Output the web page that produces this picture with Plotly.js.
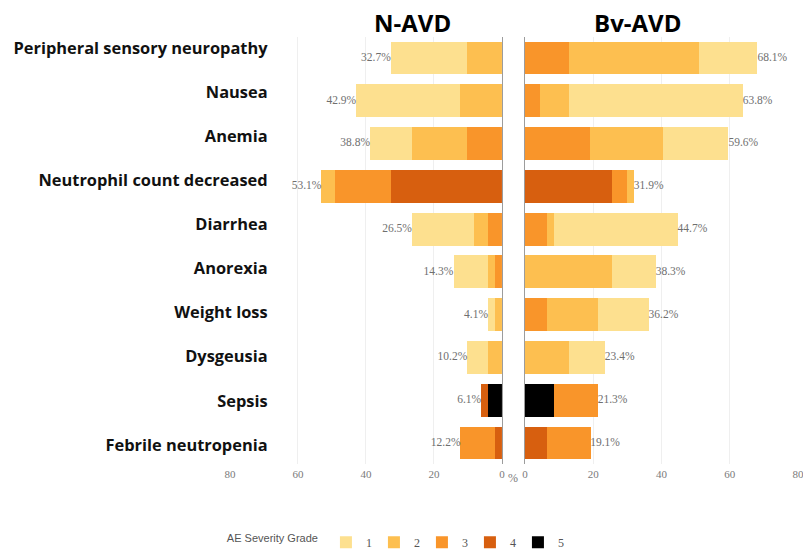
<!DOCTYPE html>
<html>
<head>
<meta charset="utf-8">
<script src="https://cdn.plot.ly/plotly-3.0.1.min.js"></script>
<style>html,body{margin:0;padding:0;background:#fff;}#chart{width:803px;height:551px;}</style>
</head>
<body>
<div id="chart"></div>
<script>
const categories = ["Peripheral sensory neuropathy","Nausea","Anemia","Neutrophil count decreased","Diarrhea","Anorexia","Weight loss","Dysgeusia","Sepsis","Febrile neutropenia"];
const grades = ["1","2","3","4","5"];
// N-AVD (%), per grade
const nG1 = [22.4, 30.6, 12.2, 0, 18.4, 10.2, 2.0, 6.1, 0, 0];
const nG2 = [10.2, 12.2, 16.3, 4.1, 4.1, 2.0, 2.0, 4.1, 0, 0];
const nG3 = [0, 0, 10.2, 16.3, 4.1, 2.0, 0, 0, 0, 10.2];
const nG4 = [0, 0, 0, 32.7, 0, 0, 0, 0, 2.0, 2.0];
const nG5 = [0, 0, 0, 0, 0, 0, 0, 0, 4.1, 0];
const nTotal = [32.7, 42.9, 38.8, 53.1, 26.5, 14.3, 4.1, 10.2, 6.1, 12.2];
// Bv-AVD (%), per grade
const bG1 = [17.0, 51.1, 19.1, 0, 36.2, 12.8, 14.9, 10.6, 0, 0];
const bG2 = [38.3, 8.5, 21.3, 2.1, 2.1, 25.5, 14.9, 12.8, 0, 0];
const bG3 = [12.8, 4.3, 19.1, 4.3, 6.4, 0, 6.4, 0, 12.8, 12.8];
const bG4 = [0, 0, 0, 25.5, 0, 0, 0, 0, 0, 6.4];
const bG5 = [0, 0, 0, 0, 0, 0, 0, 0, 8.5, 0];
const bTotal = [68.1, 63.8, 59.6, 31.9, 44.7, 38.3, 36.2, 23.4, 21.3, 19.1];
const xTicks = [0, 20, 40, 60, 80];

const colors = ["#FDE08F", "#FDBF50", "#F9952A", "#D75F0F", "#000000"];
const nSeries = [nG1, nG2, nG3, nG4, nG5];
const bSeries = [bG1, bG2, bG3, bG4, bG5];

const traces = [];
// stack from zero outward: grade 5,4,3,2,1
for (let g = 4; g >= 0; g--) {
  traces.push({type:'bar', orientation:'h', x:nSeries[g], y:categories, xaxis:'x', yaxis:'y',
    name:grades[g], legendrank:g+1, marker:{color:colors[g], line:{width:0}}, width:0.77,
    showlegend:true, hoverinfo:'x+name'});
}
for (let g = 4; g >= 0; g--) {
  traces.push({type:'bar', orientation:'h', x:bSeries[g], y:categories, xaxis:'x2', yaxis:'y2',
    name:grades[g], legendrank:g+1, marker:{color:colors[g], line:{width:0}}, width:0.77,
    showlegend:false, hoverinfo:'x+name'});
}
const pctFont = {family:'Liberation Serif, Times New Roman, serif', size:11.5, color:'#6f6f6f'};
traces.push({type:'scatter', mode:'text', x:nTotal, y:categories, xaxis:'x', yaxis:'y',
  text:nTotal.map(v=>v.toFixed(1)+'%'), textposition:'middle left', textfont:pctFont,
  showlegend:false, hoverinfo:'skip', cliponaxis:false});
traces.push({type:'scatter', mode:'text', x:bTotal, y:categories, xaxis:'x2', yaxis:'y2',
  text:bTotal.map(v=>v.toFixed(1)+'%'), textposition:'middle right', textfont:pctFont,
  showlegend:false, hoverinfo:'skip', cliponaxis:false});
// dummy trace to carry the category-label axis
traces.push({type:'scatter', mode:'markers', x:[0], y:[0], xaxis:'x3', yaxis:'y3',
  marker:{opacity:0}, showlegend:false, hoverinfo:'skip'});

const tickFont = {family:'Liberation Serif, Times New Roman, serif', size:11, color:'#7a7a7a'};
const yDom = [0.1572, 0.9336];
const layout = {
  width:803, height:551,
  margin:{l:0, r:0, t:0, b:0, autoexpand:false},
  paper_bgcolor:'#fff', plot_bgcolor:'#fff',
  barmode:'stack', bargap:0.23,
  showlegend:true,
  xaxis:{domain:[0.2864, 0.6251], range:[80, 0], tickvals:xTicks, ticks:'', tickfont:tickFont, ticklabelstandoff:2,
    ticklabeloverflow:'allow', automargin:false,
    showgrid:true, gridcolor:'#efefef', gridwidth:1, zeroline:false, showline:false, anchor:'y', fixedrange:true},
  yaxis:{domain:yDom, autorange:'reversed', type:'category', showticklabels:false, ticks:'', side:'right',
    showline:true, linecolor:'#9c9c9c', linewidth:1.5, showgrid:false, zeroline:false, anchor:'x'},
  xaxis2:{domain:[0.6538, 0.9938], range:[0, 80], tickvals:xTicks, ticks:'', tickfont:tickFont, ticklabelstandoff:2,
    ticklabeloverflow:'allow', automargin:false,
    showgrid:true, gridcolor:'#efefef', gridwidth:1, zeroline:false, showline:false, anchor:'y2'},
  yaxis2:{domain:yDom, autorange:'reversed', type:'category', showticklabels:false, ticks:'', side:'left',
    showline:true, linecolor:'#9c9c9c', linewidth:1.5, showgrid:false, zeroline:false, anchor:'x2'},
  xaxis3:{domain:[0.3345, 0.3355], visible:false, anchor:'y3'},
  yaxis3:{domain:[0.1525, 0.9528], range:[9.5, -0.5], tickvals:categories.map((c,i)=>i), ticktext:categories,
    ticks:'', showgrid:false, zeroline:false, showline:false, anchor:'x3', side:'left', automargin:false,
    tickfont:{family:'Open Sans, sans-serif', size:16.4, color:'#111', weight:'bold'}},
  legend:{orientation:'h', x:0.28, xanchor:'left', y:0.016, yanchor:'middle', entrywidth:3,
    font:{family:'Liberation Serif, Times New Roman, serif', size:12, color:'#555'},
    title:{text:'AE Severity Grade', side:'left', font:{family:'Liberation Sans, Arial, sans-serif', size:11, color:'#555'}},
    traceorder:'normal', bgcolor:'rgba(0,0,0,0)'},
  annotations:[
    {text:'<b>N-AVD</b>', x:412/803, y:0.960, xref:'paper', yref:'paper', xanchor:'center', yanchor:'middle',
      showarrow:false, font:{family:'Open Sans, sans-serif', size:24, color:'#000'}},
    {text:'<b>Bv-AVD</b>', x:637/803, y:0.960, xref:'paper', yref:'paper', xanchor:'center', yanchor:'middle',
      showarrow:false, font:{family:'Open Sans, sans-serif', size:24, color:'#000'}},
    {text:'%', x:513/803, y:(551-478)/551, xref:'paper', yref:'paper', xanchor:'center', yanchor:'middle',
      showarrow:false, font:{family:'Liberation Serif, Times New Roman, serif', size:12, color:'#7a7a7a'}}
  ]
};
Plotly.newPlot('chart', traces, layout, {displayModeBar:false, staticPlot:true});
</script>
</body>
</html>
